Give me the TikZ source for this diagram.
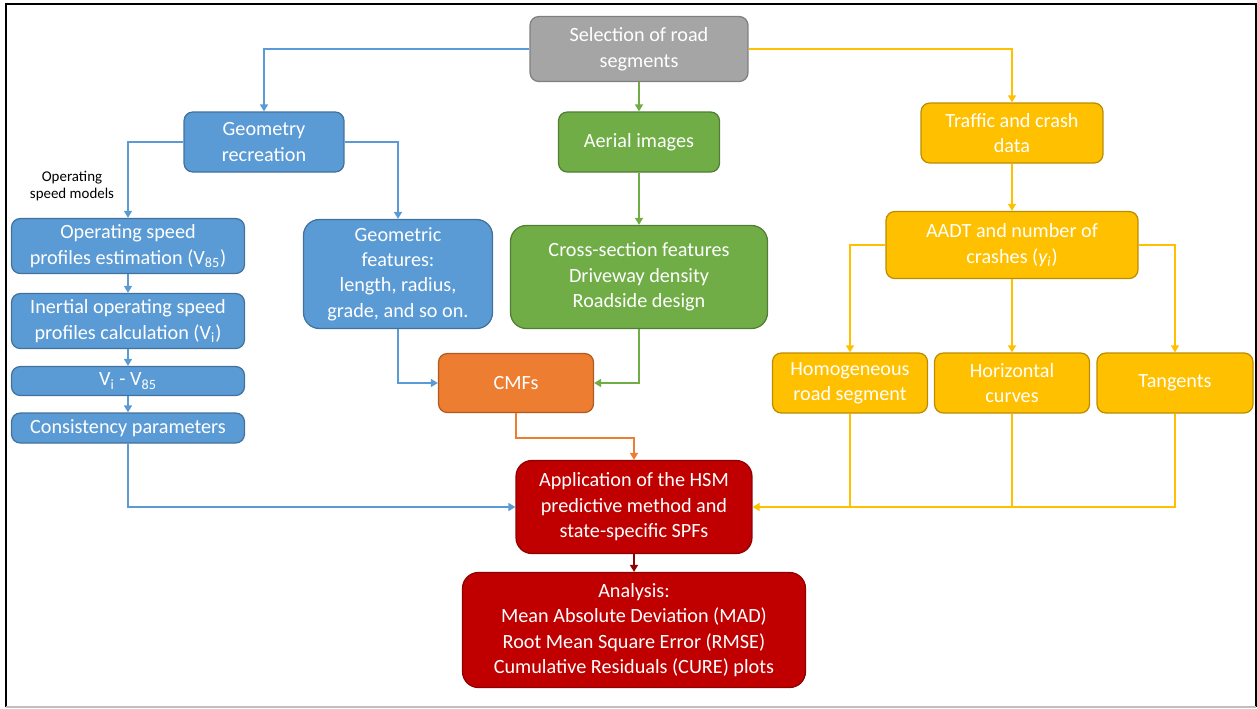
\documentclass[tikz,border=0pt]{standalone}
\usepackage{fontspec}
\setmainfont{Carlito}
\usepackage{tikz}
\usetikzlibrary{arrows.meta}
\usetikzlibrary{positioning}
\definecolor{boxblue}{HTML}{5B9BD5}
\definecolor{lineblue}{HTML}{41719C}
\definecolor{boxgreen}{HTML}{70AD47}
\definecolor{linegreen}{HTML}{507E32}
\definecolor{boxgray}{HTML}{A5A5A5}
\definecolor{linegray}{HTML}{7F7F7F}
\definecolor{boxorange}{HTML}{ED7D31}
\definecolor{lineorange}{HTML}{AE5A21}
\definecolor{boxyellow}{HTML}{FFC000}
\definecolor{lineyellow}{HTML}{BC8C00}
\definecolor{boxred}{HTML}{C00000}
\definecolor{linered}{HTML}{8F0000}
\tikzset{box/.style = {draw, line width=0.7pt, rounded corners=5pt, align=center,
                       text=white, inner sep=1pt,
                       font=\fontsize{11.5}{14.5}\selectfont}}
\tikzset{bigbox/.style = {box, rounded corners=9pt}}
\tikzset{bluebox/.style = {fill=boxblue, draw=lineblue}}
\tikzset{greenbox/.style = {fill=boxgreen, draw=linegreen}}
\tikzset{graybox/.style = {fill=boxgray, draw=linegray}}
\tikzset{orangebox/.style = {fill=boxorange, draw=lineorange}}
\tikzset{yellowbox/.style = {fill=boxyellow, draw=lineyellow}}
\tikzset{redbox/.style = {fill=boxred, draw=linered}}
\tikzset{link/.style = {line width=1pt, -{Triangle[length=4pt,width=4.5pt]}}}

\begin{document}
\begin{tikzpicture}[x=0.02cm, y=-0.02cm]
      \useasboundingbox (0, 0) rectangle (1257, 708);
      \draw [line width=1.2pt] (6, 707) -- (6, 4) -- (1256, 4) -- (1256, 707);
      \draw [gray!50, line width=0.6pt] (6, 707) -- (1256, 707);

      \node [box, graybox, minimum width=4.36cm, minimum height=1.3cm] (sel) at (639, 49) {Selection of road\\segments};
      \node [box, bluebox, minimum width=3.2cm, minimum height=1.2cm] (geo) at (264, 142) {Geometry\\recreation};
      \node [box, greenbox, minimum width=3.22cm, minimum height=1.2cm] (aer) at (639, 142) {Aerial images};
      \node [box, yellowbox, minimum width=3.64cm, minimum height=1.2cm] (traf) at (1012, 133) {Traffic and crash\\data};
      \node [box, yellowbox, minimum width=5.04cm, minimum height=1.34cm] (aadt) at (1012, 245) {AADT and number of\\crashes (\textit{y\textsubscript{i}})};

      \node [align=center, font=\fontsize{8.5}{10.2}\selectfont] (oslabel) at (72, 186) {Operating\\speed models};
      \node [box, bluebox, minimum width=4.66cm, minimum height=1.1cm] (ops) at (128, 246) {Operating speed\\profiles estimation (V\textsubscript{85})};
      \node [box, bluebox, minimum width=4.66cm, minimum height=1.1cm] (inert) at (128, 321) {Inertial operating speed\\profiles calculation (V\textsubscript{i})};
      \node [box, bluebox, minimum width=4.66cm, minimum height=0.58cm] (vdiff) at (128, 381) {V\textsubscript{i} - V\textsubscript{85}};
      \node [box, bluebox, minimum width=4.66cm, minimum height=0.6cm] (cons) at (128, 428) {Consistency parameters};

      \node [bigbox, bluebox, minimum width=3.78cm, minimum height=2.18cm] (gfeat) at (398, 274) {Geometric\\features:\\length, radius,\\grade, and so on.};
      \node [bigbox, greenbox, minimum width=5.14cm, minimum height=2.06cm] (cross) at (639, 277) {Cross-section features\\Driveway density\\Roadside design};
      \node [box, orangebox, minimum width=3.1cm, minimum height=1.18cm] (cmf) at (516, 383) {CMFs};

      \node [box, yellowbox, minimum width=3.1cm, minimum height=1.2cm] (homo) at (850, 383) {Homogeneous\\road segment};
      \node [box, yellowbox, minimum width=3.1cm, minimum height=1.2cm] (horz) at (1012, 383) {Horizontal\\curves};
      \node [box, yellowbox, minimum width=3.12cm, minimum height=1.2cm] (tang) at (1175, 383) {Tangents};

      \node [bigbox, redbox, minimum width=4.72cm, minimum height=1.86cm] (hsm) at (634, 507) {Application of the HSM\\predictive method and\\state-specific SPFs};
      \node [bigbox, redbox, minimum width=6.86cm, minimum height=2.3cm] (ana) at (634, 630) {Analysis:\\Mean Absolute Deviation (MAD)\\Root Mean Square Error (RMSE)\\Cumulative Residuals (CURE) plots};

      % top row
      \draw [link, boxblue] (sel.west) -| (geo.north);
      \draw [link, boxgreen] (sel) -- (aer);
      \draw [link, boxyellow] (sel.east) -| (traf.north);
      \draw [link, boxgreen] (aer) -- (cross);
      \draw [link, boxyellow] (traf) -- (aadt);

      % geometry branch
      \draw [link, boxblue] (geo.west) -| (ops.north);
      \draw [link, boxblue] (geo.east) -| (gfeat.north);
      \draw [link, boxblue] (ops) -- (inert);
      \draw [link, boxblue] (inert) -- (vdiff);
      \draw [link, boxblue] (vdiff) -- (cons);
      \draw [link, boxblue] (gfeat.south) |- (cmf.west);
      \draw [link, boxgreen] (cross.south) |- (cmf.east);

      % crash data branch
      \draw [link, boxyellow] (aadt.west) -| (homo.north);
      \draw [link, boxyellow] (aadt) -- (horz);
      \draw [link, boxyellow] (aadt.east) -| (tang.north);

      % into the HSM
      \draw [link, boxorange] (cmf.south) -- ++(0, 25) -| (hsm.north);
      \draw [link, boxblue] (cons.south) |- (hsm.west);
      \draw [line width=1pt, boxyellow] (homo.south) -- (homo.south |- hsm.east);
      \draw [line width=1pt, boxyellow] (horz.south) -- (horz.south |- hsm.east);
      \draw [link, boxyellow] (tang.south) |- (hsm.east);
      \draw [link, linered] (hsm) -- (ana);
\end{tikzpicture}
\end{document}
